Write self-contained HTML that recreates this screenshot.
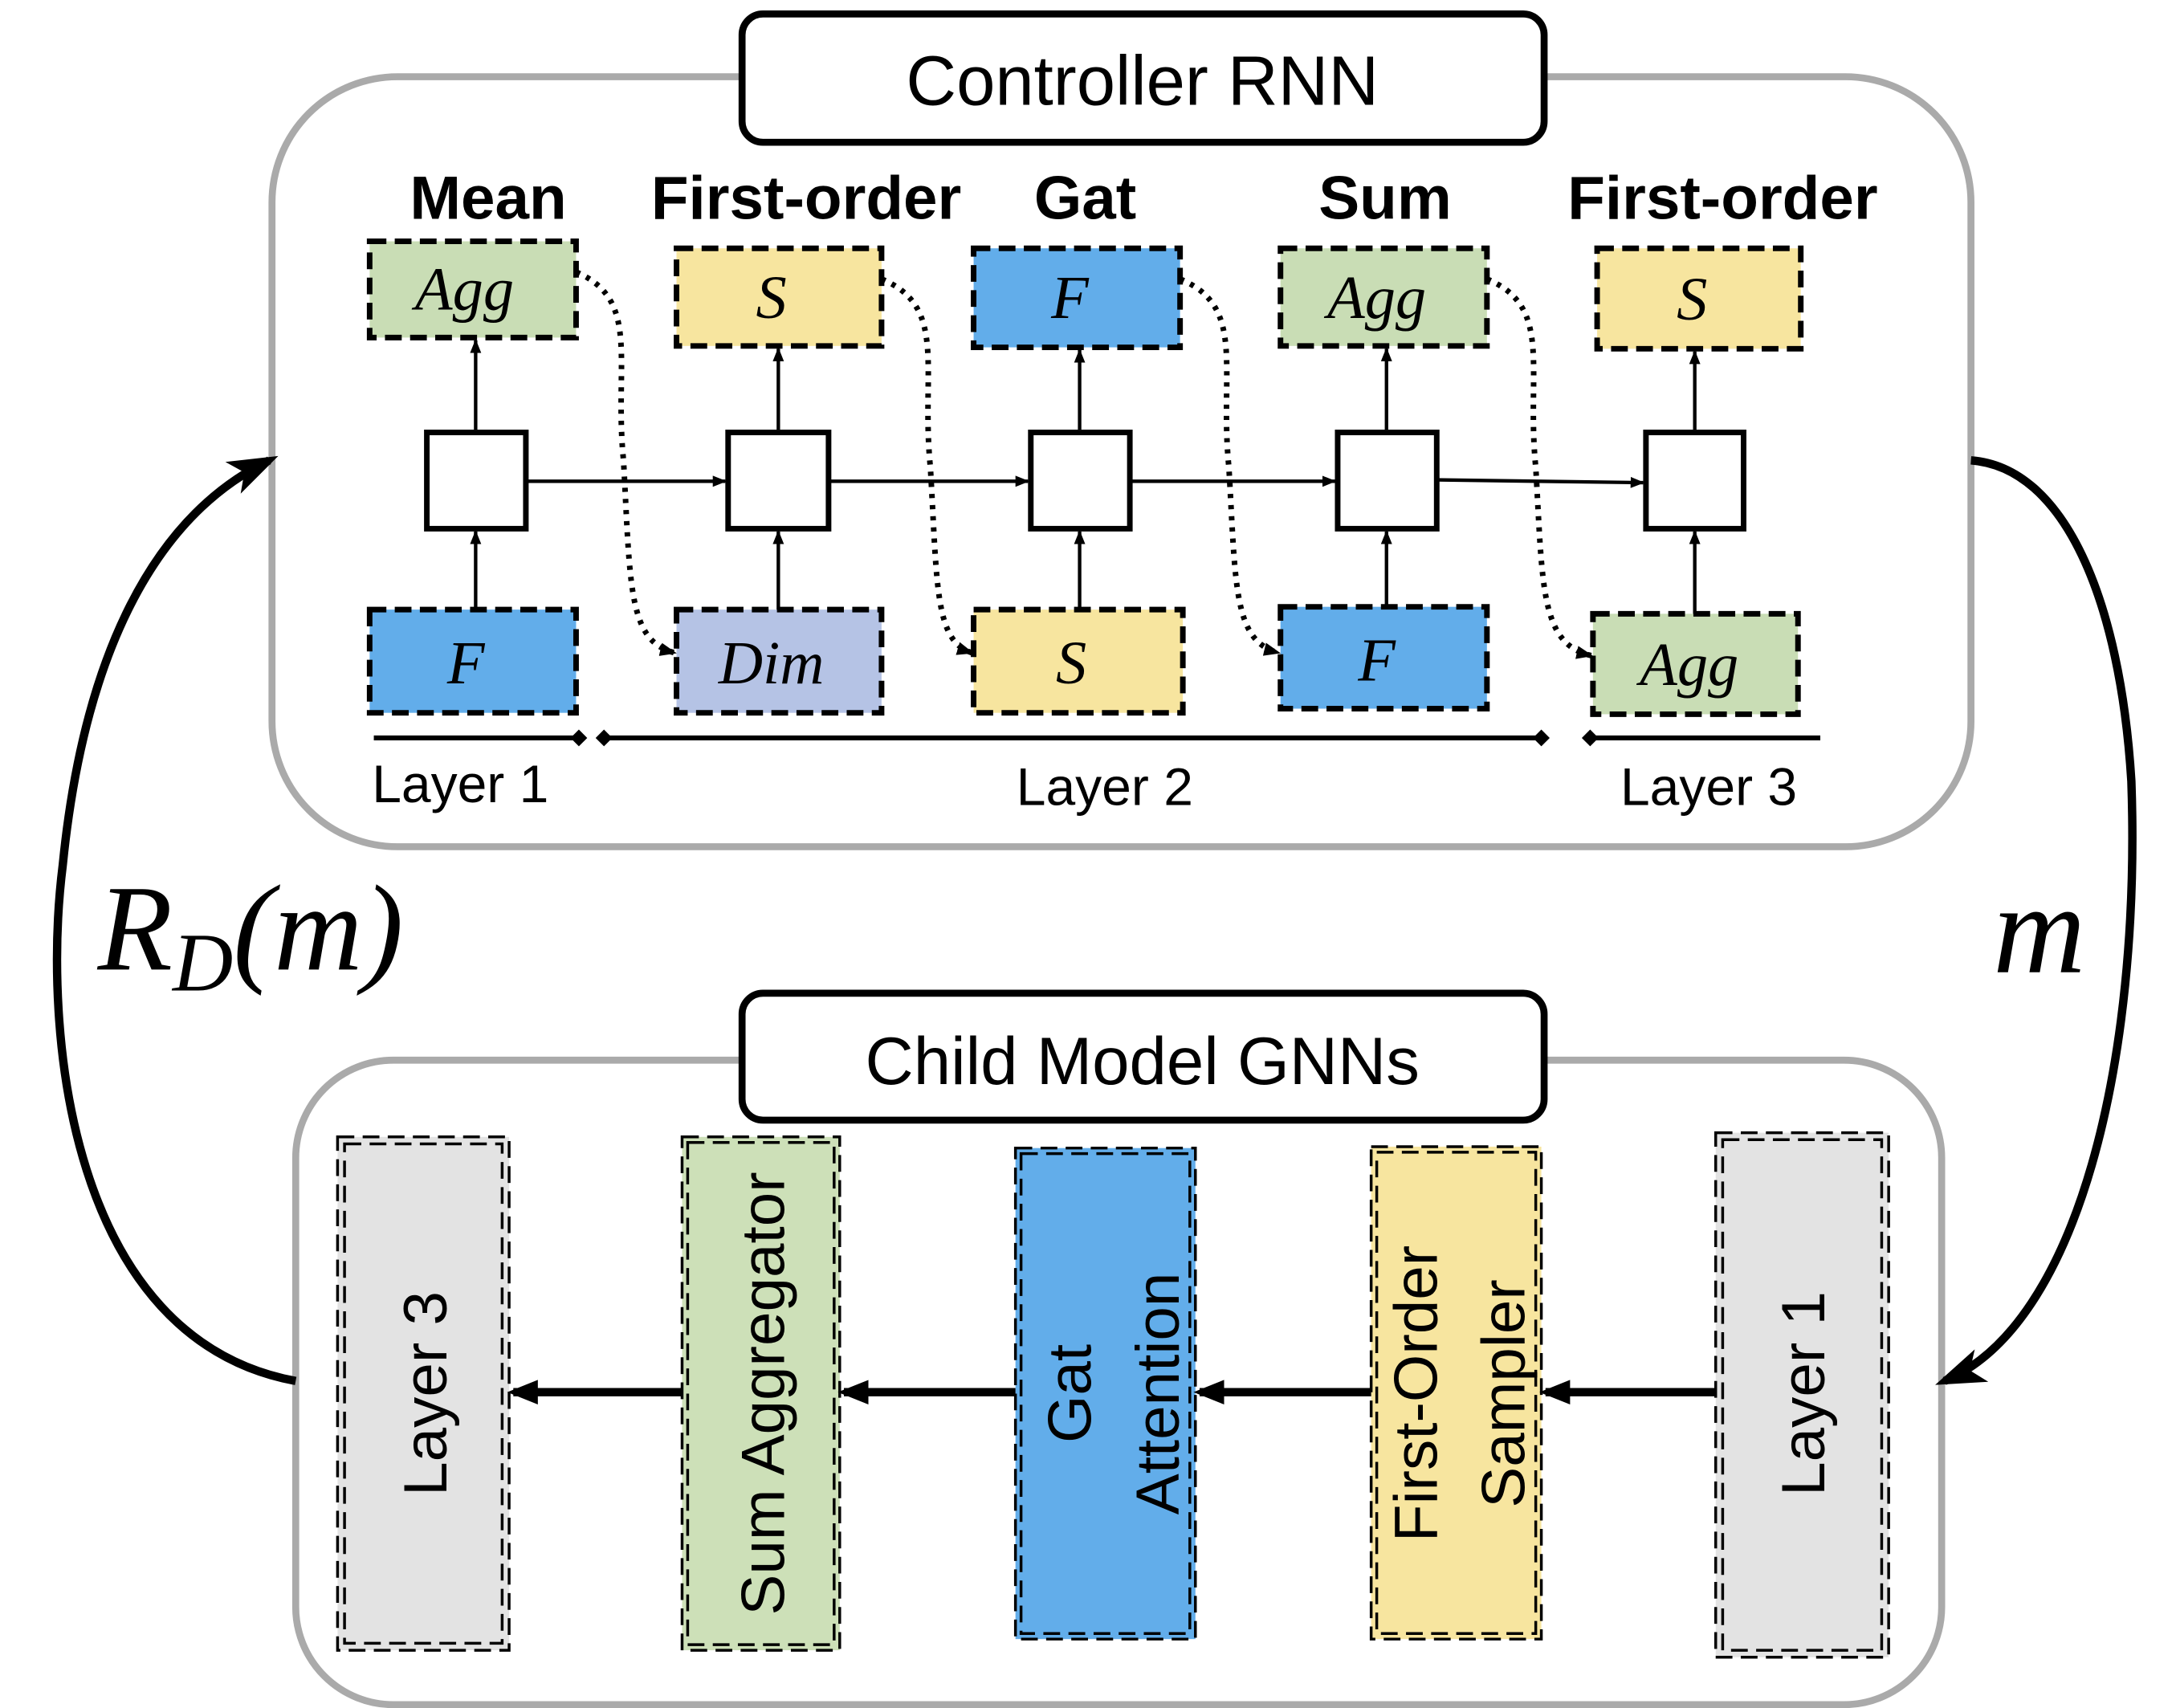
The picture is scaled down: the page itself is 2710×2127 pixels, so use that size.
<!DOCTYPE html>
<html><head><meta charset="utf-8"><style>html,body{margin:0;padding:0;background:#fff}svg{display:block}</style></head>
<body>
<svg width="2710" height="2127" viewBox="0 0 1560 1224.4" preserveAspectRatio="none" xmlns="http://www.w3.org/2000/svg">
<defs>
<marker id="a" viewBox="0 0 10 10" refX="9" refY="5" markerWidth="10" markerHeight="10" markerUnits="userSpaceOnUse" orient="auto"><path d="M0,1 L10,5 L0,9 z" fill="#000"/></marker>
<marker id="ad" viewBox="0 0 10 10" refX="9" refY="5" markerWidth="12" markerHeight="12" markerUnits="userSpaceOnUse" orient="auto"><path d="M0,1 L10,5 L0,9 z" fill="#000"/></marker>
<marker id="ab" viewBox="0 0 10 10" refX="8" refY="5" markerWidth="22" markerHeight="22" markerUnits="userSpaceOnUse" orient="auto"><path d="M0,1 L10,5 L0,9 z" fill="#000"/></marker>
<marker id="ah" viewBox="0 0 10 10" refX="8" refY="5" markerWidth="36" markerHeight="36" markerUnits="userSpaceOnUse" orient="auto"><path d="M0,1.5 L10,5 L0,8.5 L2.5,5 z" fill="#000"/></marker>
</defs>
<g font-family="Liberation Sans, sans-serif">
<!-- top panel -->
<rect x="195" y="55" width="1218" height="552" rx="90" fill="#fff" stroke="#aaa" stroke-width="5"/>
<rect x="532" y="10" width="575" height="92" rx="15" fill="#fff" stroke="#000" stroke-width="5"/>
<text x="819" y="75" font-size="50" text-anchor="middle">Controller RNN</text>
<g font-size="44" font-weight="bold" text-anchor="middle">
<text x="350" y="157">Mean</text><text x="578" y="157">First-order</text><text x="778" y="157">Gat</text><text x="993" y="157">Sum</text><text x="1235" y="157">First-order</text>
</g>
<g stroke="#000" stroke-width="4" stroke-dasharray="12,6">
<rect x="265" y="173" width="148" height="69" fill="#c9ddb5"/>
<rect x="485" y="178" width="147" height="70" fill="#f7e59f"/>
<rect x="698" y="178" width="148" height="71" fill="#62adea"/>
<rect x="918" y="178" width="148" height="70" fill="#c9ddb5"/>
<rect x="1145" y="178" width="146" height="72" fill="#f7e59f"/>
<rect x="265" y="437" width="148" height="74" fill="#62adea"/>
<rect x="485" y="437" width="147" height="74" fill="#b5c3e5"/>
<rect x="698" y="437" width="150" height="74" fill="#f7e59f"/>
<rect x="918" y="435" width="148" height="73" fill="#62adea"/>
<rect x="1142" y="440" width="147" height="72" fill="#c9ddb5"/>
</g>
<g font-family="Liberation Serif, serif" font-style="italic" font-size="44" text-anchor="middle">
<text x="333" y="222">Agg</text><text x="553" y="228">S</text><text x="767" y="228">F</text><text x="987" y="228">Agg</text><text x="1213" y="229">S</text>
<text x="334" y="490">F</text><text x="553" y="490">Dim</text><text x="768" y="490">S</text><text x="987" y="488">F</text><text x="1211" y="491">Agg</text>
</g>
<g fill="#fff" stroke="#000" stroke-width="4">
<rect x="306" y="310" width="71" height="69"/><rect x="522" y="310" width="72" height="69"/><rect x="739" y="310" width="71" height="69"/><rect x="959" y="310" width="71" height="69"/><rect x="1180" y="310" width="70" height="69"/>
</g>
<g stroke="#000" stroke-width="2.5" marker-end="url(#a)">
<line x1="341" y1="437" x2="341" y2="381"/><line x1="341" y1="308" x2="341" y2="244"/>
<line x1="558" y1="437" x2="558" y2="381"/><line x1="558" y1="308" x2="558" y2="250"/>
<line x1="774" y1="437" x2="774" y2="381"/><line x1="774" y1="308" x2="774" y2="251"/>
<line x1="994" y1="435" x2="994" y2="381"/><line x1="994" y1="308" x2="994" y2="250"/>
<line x1="1215" y1="440" x2="1215" y2="381"/><line x1="1215" y1="308" x2="1215" y2="252"/>
<line x1="377" y1="345" x2="520" y2="345"/><line x1="594" y1="345" x2="737" y2="345"/><line x1="810" y1="345" x2="957" y2="345"/><line x1="1030" y1="344" x2="1178" y2="346"/>
</g>
<g stroke="#000" stroke-width="4" stroke-dasharray="3,5" fill="none" marker-end="url(#ad)">
<path d="M413,195 C460,215 440,260 447,330 C452,420 450,460 484,468"/>
<path d="M632,200 C680,220 660,265 667,335 C672,420 670,460 697,468"/>
<path d="M846,200 C894,220 874,265 881,335 C886,420 884,460 917,468"/>
<path d="M1066,200 C1114,220 1094,265 1101,335 C1106,420 1104,462 1141,470"/>
</g>
<g stroke="#000" stroke-width="3.5">
<line x1="268" y1="529" x2="413" y2="529"/><line x1="434" y1="529" x2="1105" y2="529"/><line x1="1142" y1="529" x2="1305" y2="529"/>
</g>
<g fill="#000">
<path d="M415,523 L421,529 L415,535 L409,529z"/><path d="M433,523 L439,529 L433,535 L427,529z"/><path d="M1105,523 L1111,529 L1105,535 L1099,529z"/><path d="M1140,523 L1146,529 L1140,535 L1134,529z"/>
</g>
<g font-size="38" text-anchor="middle"><text x="330" y="575">Layer 1</text><text x="792" y="577">Layer 2</text><text x="1225" y="577">Layer 3</text></g>

<!-- bottom panel -->
<rect x="212" y="760" width="1180" height="462" rx="70" fill="#fff" stroke="#aaa" stroke-width="5"/>
<rect x="532" y="712" width="575" height="91" rx="15" fill="#fff" stroke="#000" stroke-width="5"/>
<text x="819" y="777" font-size="48" text-anchor="middle">Child Model GNNs</text>
<g stroke="#000" stroke-width="2" stroke-dasharray="12,6">
<rect x="242" y="815" width="123" height="368" fill="#e3e3e3"/><rect x="247" y="820" width="113" height="358" fill="none"/>
<rect x="489" y="815" width="113" height="368" fill="#cde0b8"/><rect x="493" y="819" width="105" height="360" fill="none"/>
<rect x="728" y="823" width="129" height="352" fill="#62adea"/><rect x="732" y="827" width="121" height="344" fill="none"/>
<rect x="983" y="822" width="122" height="353" fill="#f7e59f"/><rect x="987" y="826" width="114" height="345" fill="none"/>
<rect x="1230" y="812" width="124" height="376" fill="#e3e3e3"/><rect x="1235" y="817" width="114" height="366" fill="none"/>
</g>
<g font-size="44" text-anchor="middle">
<text transform="translate(320,999) rotate(-90)">Layer 3</text>
<text transform="translate(562,999) rotate(-90)">Sum Aggregator</text>
<text transform="translate(782,999) rotate(-90)">Gat</text>
<text transform="translate(845,999) rotate(-90)">Attention</text>
<text transform="translate(1030,999) rotate(-90)">First-Order</text>
<text transform="translate(1093,999) rotate(-90)">Sampler</text>
<text transform="translate(1308,999) rotate(-90)">Layer 1</text>
</g>
<g stroke="#000" stroke-width="6" marker-end="url(#ab)">
<line x1="1230" y1="998" x2="1108" y2="998"/><line x1="983" y1="998" x2="860" y2="998"/><line x1="728" y1="998" x2="605" y2="998"/><line x1="489" y1="998" x2="368" y2="998"/>
</g>
<g stroke="#000" stroke-width="6" fill="none" marker-end="url(#ah)">
<path d="M212,990 C50,960 30,740 45,620 C60,470 110,370 193,330"/>
<path d="M1413,330 C1480,335 1520,430 1528,560 C1535,760 1490,950 1394,990"/>
</g>
<text x="70" y="695" font-family="Liberation Serif, serif" font-style="italic" font-size="88">R<tspan font-size="60" dy="15">D</tspan><tspan dy="-15">(m)</tspan></text>
<text x="1462" y="697" font-family="Liberation Serif, serif" font-style="italic" font-size="92" text-anchor="middle">m</text>
</g>
</svg>
</body></html>
